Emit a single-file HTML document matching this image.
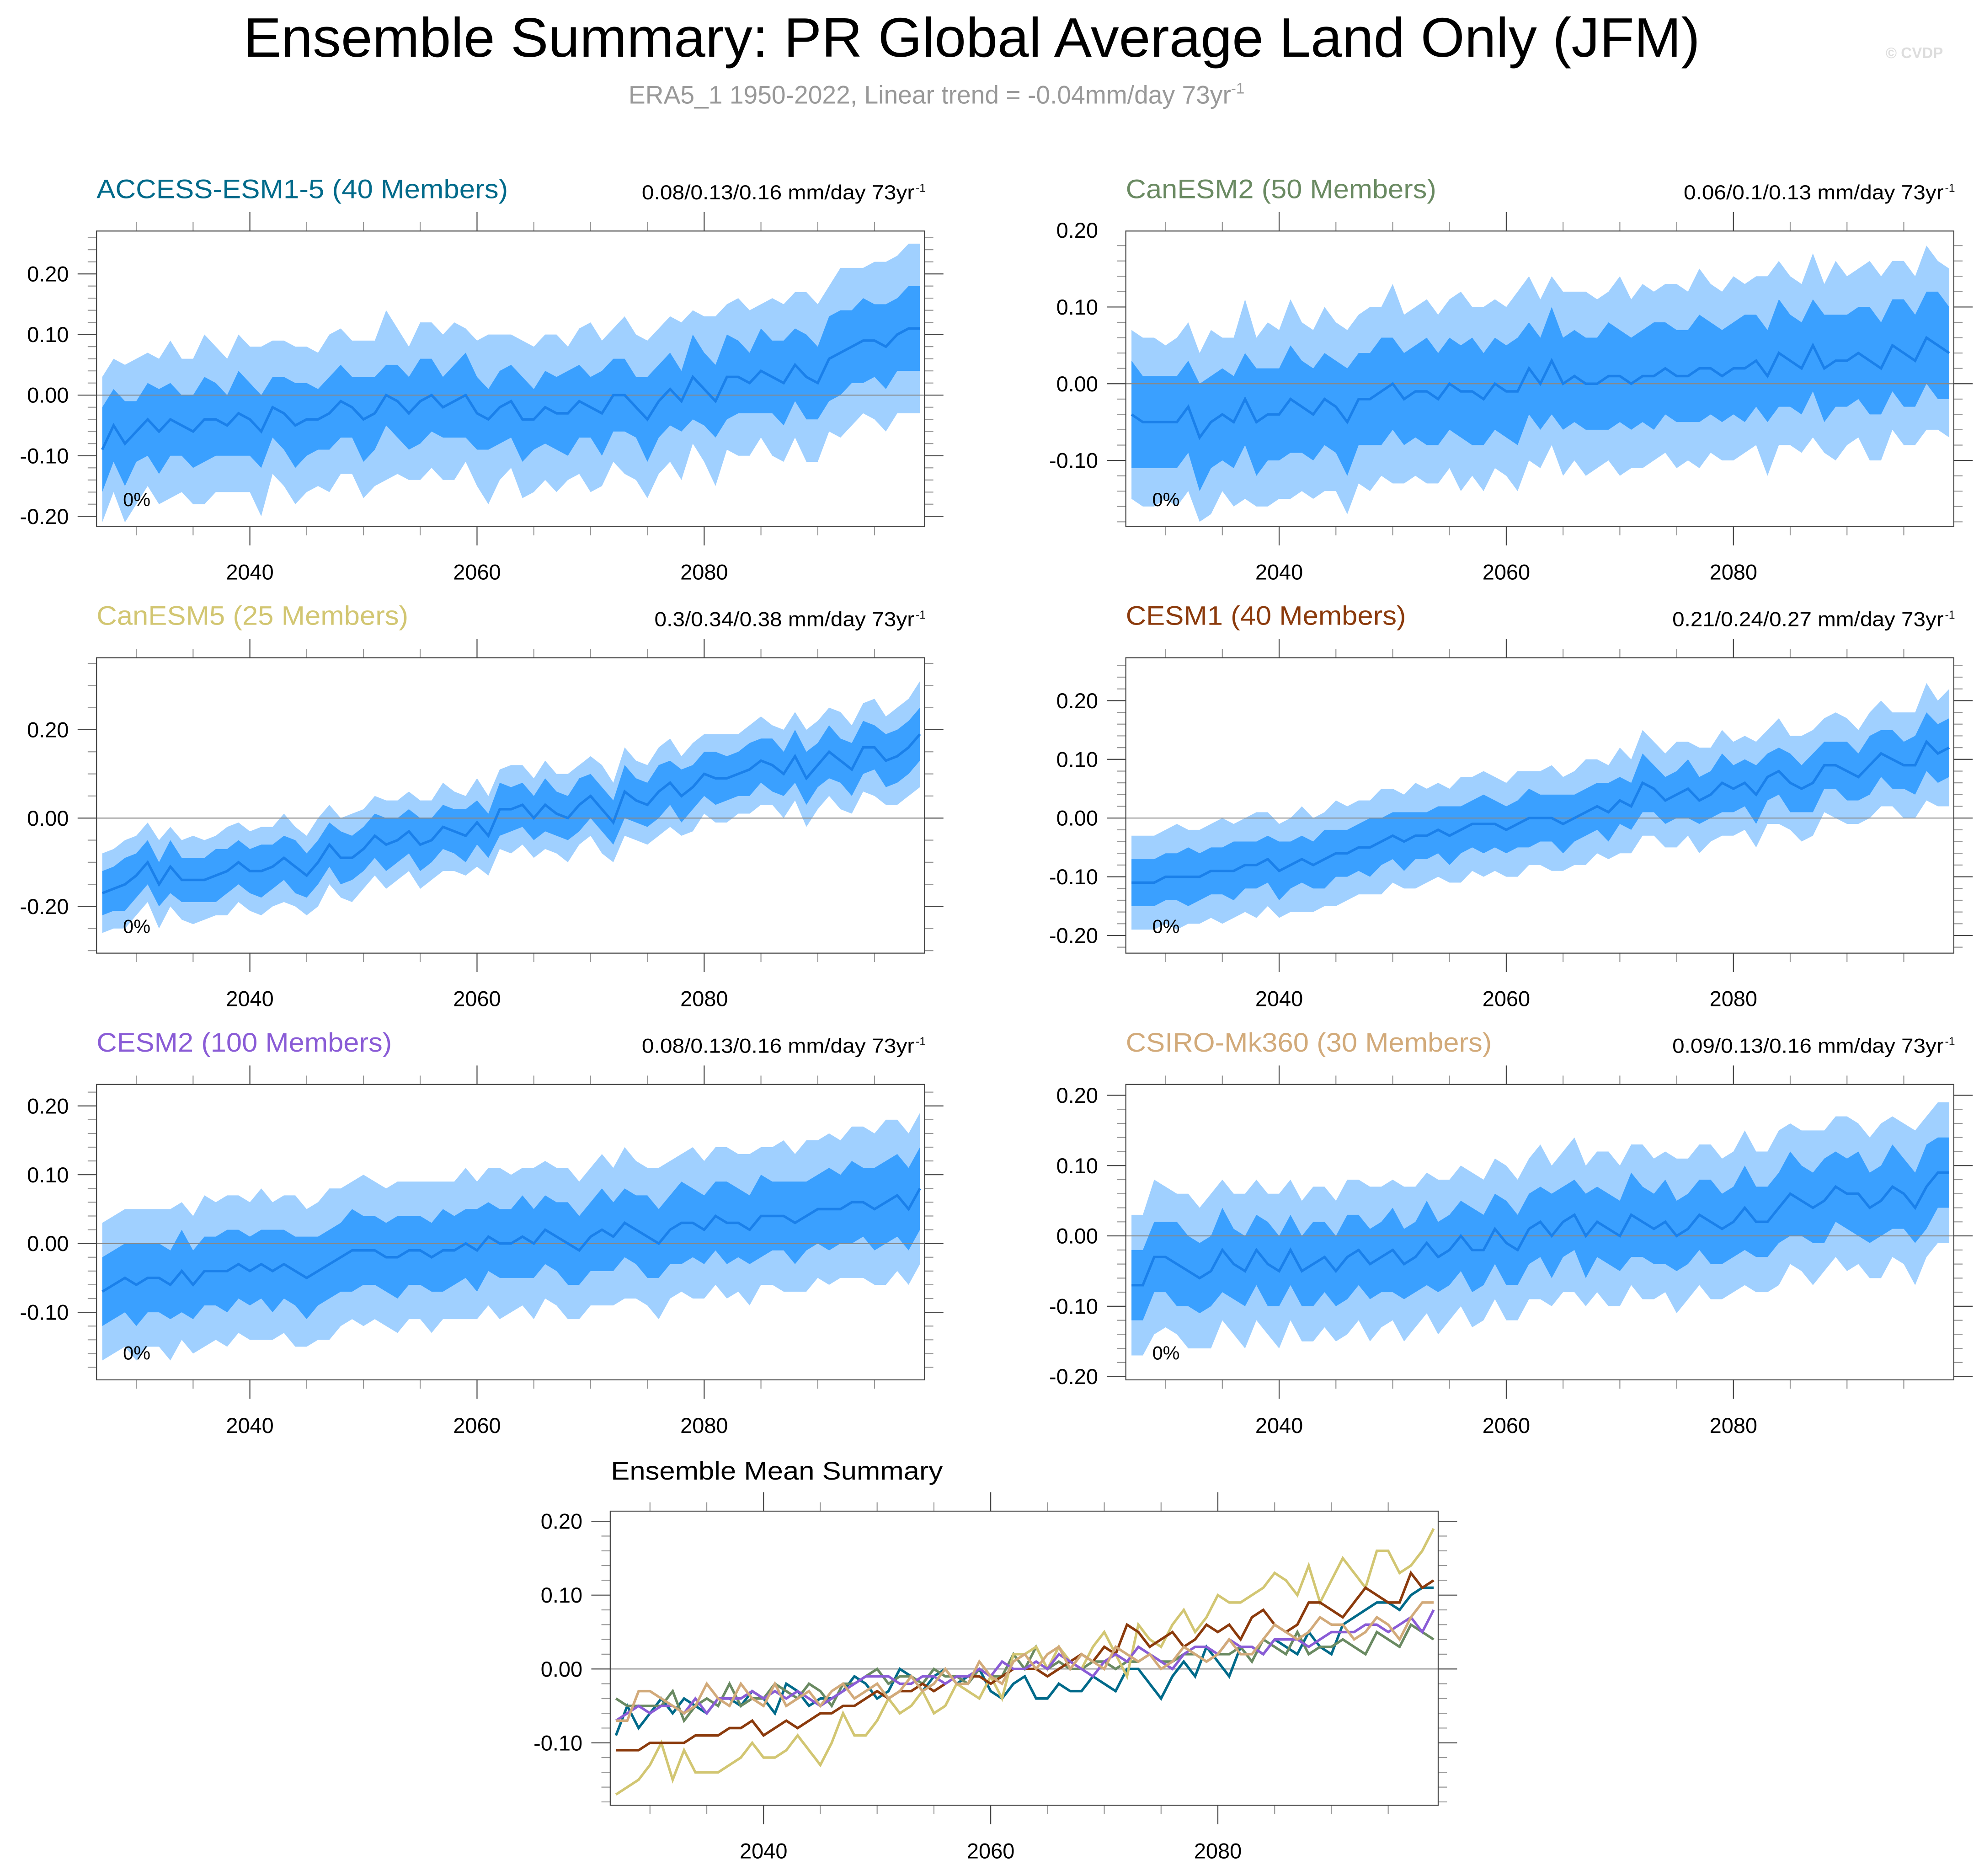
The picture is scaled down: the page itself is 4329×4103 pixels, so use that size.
<!DOCTYPE html>
<html><head><meta charset="utf-8">
<style>
html,body{margin:0;padding:0;background:#fff;}
svg{display:block;font-family:"Liberation Sans",sans-serif;}
</style></head>
<body>
<svg id="fig" xmlns="http://www.w3.org/2000/svg" width="4329" height="4103" viewBox="0 0 1568 1486" preserveAspectRatio="none">
<text x="193" y="45" font-size="44" textLength="1154" lengthAdjust="spacingAndGlyphs">Ensemble Summary: PR Global Average Land Only (JFM)</text>
<text x="498" y="82" font-size="20" fill="#999">ERA5_1 1950-2022, Linear trend = -0.04mm/day 73yr<tspan dy="-8" font-size="12">-1</tspan></text>
<text x="1494" y="46" font-size="12" fill="#ddd" font-weight="bold">© CVDP</text>
<g id="panels"></g>
</svg>
<script>
const NS="http://www.w3.org/2000/svg";
const years=Array.from({length:73},(_,i)=>2027+i);
const xTickLabels=[2040,2060,2080];
const xMinorTicks=[2030,2035,2040,2045,2050,2055,2060,2065,2070,2075,2080,2085,2090,2095];

const meanACCESS=[-0.09,-0.05,-0.08,-0.06,-0.04,-0.06,-0.04,-0.05,-0.06,-0.04,
-0.04,-0.05,-0.03,-0.04,-0.06,-0.02,-0.03,-0.05,-0.04,-0.04,
-0.03,-0.01,-0.02,-0.04,-0.03,0.00,-0.01,-0.03,-0.01,0.00,
-0.02,-0.01,0.00,-0.03,-0.04,-0.02,-0.01,-0.04,-0.04,-0.02,
-0.03,-0.03,-0.01,-0.02,-0.03,0.00,0.00,-0.02,-0.04,-0.01,
0.01,-0.01,0.03,0.01,-0.01,0.03,0.03,0.02,0.04,0.03,
0.02,0.05,0.03,0.02,0.06,0.07,0.08,0.09,0.09,0.08,
0.10,0.11,0.11];
const innACCESS=[7,6,7,5,6,7,6,5,6,7,6,5,7,6,6,5,6,7,6,5,6,6,5,7,6,5,6,6,7,6,5,6,7,6,5,6,6,7,5,6,6,7,6,5,7,6,6,5,7,6,6,5,7,6,6,7,6,5,7,6,7,6,7,6,7,7,6,7,6,7,6,7,7];
const outACCESS=[12,11,13,12,11,12,13,11,12,14,12,11,13,12,14,11,12,13,12,11,13,12,11,13,12,14,12,11,13,12,12,13,11,12,14,12,11,13,12,12,13,11,12,14,12,11,13,12,13,12,12,13,11,12,14,12,13,12,11,13,13,12,14,13,12,14,13,12,13,14,13,14,14];

const meanCanESM2=[-0.04,-0.05,-0.05,-0.05,-0.05,-0.03,-0.07,-0.05,-0.04,-0.05,
-0.02,-0.05,-0.04,-0.04,-0.02,-0.03,-0.04,-0.02,-0.03,-0.05,
-0.02,-0.02,-0.01,0.00,-0.02,-0.01,-0.01,-0.02,0.00,-0.01,
-0.01,-0.02,0.00,-0.01,-0.01,0.02,0.00,0.03,0.00,0.01,
0.00,0.00,0.01,0.01,0.00,0.01,0.01,0.02,0.01,0.01,
0.02,0.02,0.01,0.02,0.02,0.03,0.01,0.04,0.03,0.02,
0.05,0.02,0.03,0.03,0.04,0.03,0.02,0.05,0.04,0.03,
0.06,0.05,0.04];
const innCanESM2=[7,6,6,6,6,6,7,6,6,6,6,7,6,6,7,6,6,6,6,7,6,6,7,6,6,6,7,6,6,6,7,6,6,6,7,6,6,7,6,6,6,6,7,6,6,6,7,6,6,6,7,6,6,6,7,6,6,7,6,6,6,7,6,6,6,7,6,6,7,6,6,7,6];
const outCanESM2=[11,11,11,10,11,11,11,12,10,11,13,11,12,11,13,11,11,12,11,12,11,12,11,13,11,11,12,11,11,13,11,12,11,11,13,12,11,11,12,11,12,11,11,13,11,12,11,11,12,11,13,11,11,12,11,11,13,12,11,11,12,11,13,11,11,13,12,11,12,11,12,11,11];

const meanCanESM5=[-0.17,-0.16,-0.15,-0.13,-0.10,-0.15,-0.11,-0.14,-0.14,-0.14,
-0.13,-0.12,-0.10,-0.12,-0.12,-0.11,-0.09,-0.11,-0.13,-0.10,
-0.06,-0.09,-0.09,-0.07,-0.04,-0.06,-0.05,-0.03,-0.06,-0.05,
-0.02,-0.03,-0.04,-0.01,-0.04,0.02,0.02,0.03,0.00,0.03,
0.01,0.00,0.03,0.05,0.02,-0.01,0.06,0.04,0.03,0.06,
0.08,0.05,0.07,0.10,0.09,0.09,0.10,0.11,0.13,0.12,
0.10,0.14,0.09,0.12,0.15,0.13,0.11,0.16,0.16,0.13,
0.14,0.16,0.19];
const innCanESM5=[5,5,6,5,5,5,6,5,5,5,6,5,5,5,6,5,5,6,5,5,5,6,5,5,5,6,5,5,6,5,5,5,6,5,5,6,5,5,5,6,5,5,6,5,5,5,6,5,5,6,5,6,5,5,6,5,5,6,5,6,5,6,6,5,6,5,6,6,5,6,6,6,6];
const outCanESM5=[9,9,10,9,9,10,9,9,10,9,9,10,9,9,10,9,10,9,9,10,9,9,10,9,9,10,9,9,10,9,10,9,9,10,9,9,10,9,9,10,9,10,9,9,10,9,10,9,9,10,10,9,10,9,10,10,9,10,10,9,10,10,11,10,10,11,10,10,11,10,11,11,12];

const meanCESM1=[-0.11,-0.11,-0.11,-0.10,-0.10,-0.10,-0.10,-0.09,-0.09,-0.09,
-0.08,-0.08,-0.07,-0.09,-0.08,-0.07,-0.08,-0.07,-0.06,-0.06,
-0.05,-0.05,-0.04,-0.03,-0.04,-0.03,-0.03,-0.02,-0.03,-0.02,
-0.01,-0.01,-0.01,-0.02,-0.01,0.00,0.00,0.00,-0.01,0.00,
0.01,0.02,0.01,0.03,0.02,0.06,0.05,0.03,0.04,0.05,
0.03,0.04,0.06,0.05,0.06,0.04,0.07,0.08,0.06,0.05,
0.06,0.09,0.09,0.08,0.07,0.09,0.11,0.10,0.09,0.09,
0.13,0.11,0.12];
const innCESM1=[4,4,4,4,4,5,4,4,4,5,4,4,4,5,4,4,4,5,4,4,4,5,4,4,5,4,4,4,5,4,4,5,4,4,4,5,4,4,5,4,4,4,5,4,4,5,4,4,4,5,4,4,5,4,4,5,4,4,5,4,5,4,4,5,4,5,4,5,4,5,5,5,5];
const outCESM1=[8,8,8,8,9,8,8,8,9,8,8,9,8,8,8,9,8,8,9,8,8,8,9,8,8,9,8,8,8,9,8,9,8,8,9,8,8,9,8,8,9,8,8,9,8,9,8,8,9,8,9,8,9,8,8,9,8,9,8,9,9,8,9,9,8,9,9,8,9,9,10,9,10];

const meanCESM2=[-0.07,-0.06,-0.05,-0.06,-0.05,-0.05,-0.06,-0.04,-0.06,-0.04,
-0.04,-0.04,-0.03,-0.04,-0.03,-0.04,-0.03,-0.04,-0.05,-0.04,
-0.03,-0.02,-0.01,-0.01,-0.01,-0.02,-0.02,-0.01,-0.01,-0.02,
-0.01,-0.01,0.00,-0.01,0.01,0.00,0.00,0.01,0.00,0.02,
0.01,0.00,-0.01,0.01,0.02,0.01,0.03,0.02,0.01,0.00,
0.02,0.03,0.03,0.02,0.04,0.03,0.03,0.02,0.04,0.04,
0.04,0.03,0.04,0.05,0.05,0.05,0.06,0.06,0.05,0.06,
0.07,0.05,0.08];
const innCESM2=[5,5,5,6,5,5,5,6,5,5,5,6,5,5,5,6,5,5,6,5,5,5,6,5,5,5,6,5,5,5,6,5,5,6,5,5,5,6,5,5,5,6,5,5,6,5,5,5,6,5,5,6,5,5,5,6,5,5,6,5,5,6,5,5,6,5,6,5,6,6,6,6,6];
const outCESM2=[10,10,10,11,10,10,11,10,10,11,10,11,10,10,11,10,10,11,10,10,11,10,10,11,10,10,11,10,10,11,10,10,11,10,10,11,10,10,11,10,10,11,10,10,11,10,11,10,10,11,10,10,11,10,10,11,10,11,10,10,11,10,11,10,11,10,11,11,11,12,11,11,11];

const meanCSIRO=[-0.07,-0.07,-0.03,-0.03,-0.04,-0.05,-0.06,-0.05,-0.02,-0.04,
-0.05,-0.02,-0.04,-0.05,-0.02,-0.05,-0.04,-0.03,-0.05,-0.03,
-0.02,-0.04,-0.03,-0.02,-0.04,-0.03,-0.01,-0.03,-0.02,0.00,
-0.02,-0.02,0.01,-0.01,-0.02,0.01,0.02,0.00,0.02,0.03,
0.00,0.02,0.01,0.00,0.03,0.02,0.01,0.02,0.00,0.01,
0.03,0.02,0.01,0.02,0.04,0.02,0.02,0.04,0.06,0.05,
0.04,0.05,0.07,0.06,0.06,0.04,0.05,0.07,0.06,0.04,
0.07,0.09,0.09];
const innCSIRO=[5,5,5,5,6,5,5,5,6,5,5,5,6,5,5,5,6,5,5,6,5,5,5,6,5,5,6,5,5,5,6,5,5,6,5,5,5,6,5,5,6,5,5,5,6,5,5,6,5,5,5,6,5,5,6,5,5,5,6,5,5,6,5,5,6,5,5,6,5,5,6,5,5];
const outCSIRO=[10,10,11,10,10,11,10,11,10,10,11,10,10,11,10,10,11,10,10,11,10,11,10,10,11,10,10,11,10,10,11,10,10,11,10,10,11,10,10,11,10,10,11,10,10,11,10,10,11,10,10,11,10,10,11,10,10,11,10,10,11,10,10,11,10,10,11,10,10,11,10,10,10];

const panels=[
 {key:"access-esm1-5",title:"ACCESS-ESM1-5 (40 Members)",tw:326,color:"#006a8a",note:"0.08/0.13/0.16 mm/day 73yr",nw:216,mean:meanACCESS,inn:innACCESS,out:outACCESS,x:76.5,y:183,ymax:0.2708,ymin:-0.2167,maj:[-0.2,-0.1,0,0.1,0.2],minStep:0.02},
 {key:"canesm2",title:"CanESM2 (50 Members)",tw:246,color:"#6a8a62",note:"0.06/0.1/0.13 mm/day 73yr",nw:206,mean:meanCanESM2,inn:innCanESM2,out:outCanESM2,x:892,y:183,ymax:0.199,ymin:-0.186,maj:[-0.1,0,0.1,0.2],minStep:0.02},
 {key:"canesm5",title:"CanESM5 (25 Members)",tw:247,color:"#d2c672",note:"0.3/0.34/0.38 mm/day 73yr",nw:206,mean:meanCanESM5,inn:innCanESM5,out:outCanESM5,x:76.5,y:521,ymax:0.3629,ymin:-0.3057,maj:[-0.2,0,0.2],minStep:0.05},
 {key:"cesm1",title:"CESM1 (40 Members)",tw:222,color:"#8b3a0c",note:"0.21/0.24/0.27 mm/day 73yr",nw:215,mean:meanCESM1,inn:innCESM1,out:outCESM1,x:892,y:521,ymax:0.2731,ymin:-0.2301,maj:[-0.2,-0.1,0,0.1,0.2],minStep:0.02},
 {key:"cesm2",title:"CESM2 (100 Members)",tw:234,color:"#8a5cd6",note:"0.08/0.13/0.16 mm/day 73yr",nw:216,mean:meanCESM2,inn:innCESM2,out:outCESM2,x:76.5,y:859,ymax:0.2312,ymin:-0.1982,maj:[-0.1,0,0.1,0.2],minStep:0.02},
 {key:"csiro-mk360",title:"CSIRO-Mk360 (30 Members)",tw:290,color:"#d2aa7a",note:"0.09/0.13/0.16 mm/day 73yr",nw:215,mean:meanCSIRO,inn:innCSIRO,out:outCSIRO,x:892,y:859,ymax:0.2154,ymin:-0.2047,maj:[-0.2,-0.1,0,0.1,0.2],minStep:0.02}
];
const W=656,H=234,XMIN=2026.5,XMAX=2099.4;
const root=document.getElementById("panels");
function el(tag,attrs,parent){const e=document.createElementNS(NS,tag);for(const k in attrs)e.setAttribute(k,attrs[k]);(parent||root).appendChild(e);return e;}

function axes(g,x0,y0,h,ymin,ymax,maj,minStep){
  const sx=v=>x0+(v-XMIN)/(XMAX-XMIN)*W;
  const sy=v=>y0+(ymax-v)/(ymax-ymin)*h;
  xMinorTicks.forEach(yr=>{
    const major=xTickLabels.includes(yr);const L=major?15:7;
    const t1=el("line",{x1:sx(yr),x2:sx(yr),y1:y0,y2:y0-L,stroke:major?"#444":"#999","stroke-width":0.8},g);
    
    
    const t2=el("line",{x1:sx(yr),x2:sx(yr),y1:y0+h,y2:y0+h+L,stroke:major?"#444":"#999","stroke-width":0.8},g);
    
    
    if(major){const lb=el("text",{x:sx(yr),y:y0+h+42,"font-size":17,"text-anchor":"middle"},g);lb.textContent=yr;
      
      }
  });
  const n0=Math.ceil(ymin/minStep-1e-6),n1=Math.floor(ymax/minStep+1e-6);
  for(let n=n0;n<=n1;n++){const v=n*minStep;const major=maj.some(m=>Math.abs(m-v)<1e-6);const L=major?15:7;
    const yy=sy(v);
    const a=el("line",{x1:x0,x2:x0-L,y1:yy,y2:yy,stroke:major?"#444":"#999","stroke-width":0.8},g);
    
    
    const b=el("line",{x1:x0+W,x2:x0+W+L,y1:yy,y2:yy,stroke:major?"#444":"#999","stroke-width":0.8},g);
    
    
  }
  maj.forEach(v=>{const lb=el("text",{x:x0-22,y:sy(v)+6,"font-size":17,"text-anchor":"end"},g);lb.textContent=v.toFixed(2);
    
    });
  return {sx,sy};
}

panels.forEach(p=>{
  const g=el("g",{});
  
  
  const {sx,sy}=axes(g,p.x,p.y,H,p.ymin,p.ymax,p.maj,p.minStep);
  const band=(w,fill,name)=>{
    const up=years.map((yr,i)=>sx(yr)+","+sy(p.mean[i]+w[i]/100));
    const dn=years.map((yr,i)=>sx(yr)+","+sy(p.mean[i]-w[i]/100)).reverse();
    const pg=el("polygon",{points:up.concat(dn).join(" "),fill:fill},g);
    
    
  };
  band(p.out,"#a0d0ff","outer-spread-band");
  band(p.inn,"#3aa0ff","inner-spread-band");
  const zl=el("line",{x1:p.x,x2:p.x+W,y1:sy(0),y2:sy(0),stroke:"#888","stroke-width":0.8},g);
  
  
  const ml=el("polyline",{points:years.map((yr,i)=>sx(yr)+","+sy(p.mean[i])).join(" "),fill:"none",stroke:"#1a80ea","stroke-width":2},g);
  
  
  const bx=el("rect",{x:p.x,y:p.y,width:W,height:H,fill:"none",stroke:"#444","stroke-width":0.8},g);
  
  
  const t=el("text",{x:p.x,y:p.y-26,"font-size":21,fill:p.color,textLength:p.tw,lengthAdjust:"spacingAndGlyphs"},g);
  t.textContent=p.title;
  
  
  const nt=el("text",{x:p.x+W-8-p.nw,y:p.y-25,"font-size":16,textLength:p.nw,lengthAdjust:"spacingAndGlyphs"},g);
  nt.textContent=p.note;
  
  
  const sup=el("text",{x:p.x+W+1,y:p.y-31,"font-size":9,"text-anchor":"end"},g);
  sup.textContent="-1";
  
  
  const pc=el("text",{x:p.x+21,y:p.y+H-16,"font-size":15},g);
  pc.textContent="0%";
  
  
});

const gb=el("g",{});


const B={x:483.5,y:1197,h:233,ymax:0.2137,ymin:-0.1846};
const ax=axes(gb,B.x,B.y,B.h,B.ymin,B.ymax,[-0.1,0,0.1,0.2],0.02);
const zb=el("line",{x1:B.x,x2:B.x+W,y1:ax.sy(0),y2:ax.sy(0),stroke:"#888","stroke-width":0.8},gb);


panels.forEach(p=>{
  const pl=el("polyline",{points:years.map((yr,i)=>ax.sx(yr)+","+ax.sy(p.mean[i])).join(" "),fill:"none",stroke:p.color,"stroke-width":2},gb);
  
  
});
const fb=el("rect",{x:B.x,y:B.y,width:W,height:B.h,fill:"none",stroke:"#444","stroke-width":0.8},gb);


const bt=el("text",{x:484,y:1172,"font-size":20,textLength:263,lengthAdjust:"spacingAndGlyphs"},gb);
bt.textContent="Ensemble Mean Summary";


</script>
</body></html>
